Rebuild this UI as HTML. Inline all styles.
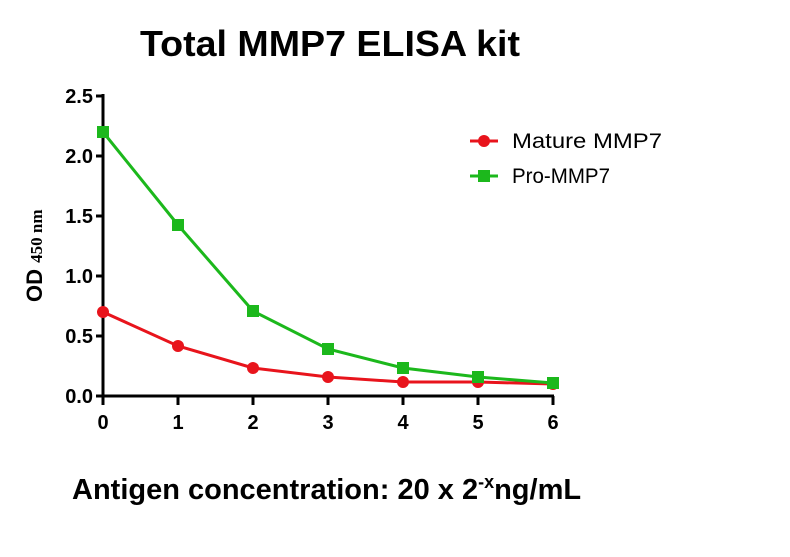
<!DOCTYPE html>
<html><head><meta charset="utf-8"><style>body{margin:0;background:#fff}svg{display:block}</style></head><body>
<svg width="790" height="557" xmlns="http://www.w3.org/2000/svg" font-family="Liberation Sans, Arial, sans-serif">
<rect width="790" height="557" fill="#fff"/>
<text x="140" y="56" font-size="36" font-weight="bold" textLength="380" lengthAdjust="spacingAndGlyphs">Total MMP7 ELISA kit</text>
<g stroke="#000" stroke-width="3" fill="none">
<line x1="103" y1="94" x2="103" y2="397"/>
<line x1="101.5" y1="396" x2="554" y2="396"/>
<line x1="96" y1="96" x2="103" y2="96"/>
<line x1="96" y1="156" x2="103" y2="156"/>
<line x1="96" y1="216" x2="103" y2="216"/>
<line x1="96" y1="276" x2="103" y2="276"/>
<line x1="96" y1="336" x2="103" y2="336"/>
<line x1="96" y1="396" x2="103" y2="396"/>
<line x1="103" y1="396" x2="103" y2="405"/>
<line x1="178" y1="396" x2="178" y2="405"/>
<line x1="253" y1="396" x2="253" y2="405"/>
<line x1="328" y1="396" x2="328" y2="405"/>
<line x1="403" y1="396" x2="403" y2="405"/>
<line x1="478" y1="396" x2="478" y2="405"/>
<line x1="553" y1="396" x2="553" y2="405"/>
</g>
<g font-size="20" font-weight="bold" text-anchor="end">
<text x="93" y="103">2.5</text><text x="93" y="163">2.0</text><text x="93" y="223">1.5</text>
<text x="93" y="283">1.0</text><text x="93" y="343">0.5</text><text x="93" y="403">0.0</text>
</g>
<g font-size="20" font-weight="bold" text-anchor="middle">
<text x="103" y="429">0</text><text x="178" y="429">1</text><text x="253" y="429">2</text><text x="328" y="429">3</text>
<text x="403" y="429">4</text><text x="478" y="429">5</text><text x="553" y="429">6</text>
</g>
<text transform="translate(42,302) rotate(-90)" font-size="22" font-weight="bold">OD <tspan font-family="Liberation Serif, serif" font-size="17">450 nm</tspan></text>
<polyline fill="none" stroke="#e8141c" stroke-width="3" points="103,312 178,346 253,368 328,377 403,382 478,382 553,384"/>
<g fill="#e8141c">
<circle cx="103" cy="312" r="6"/><circle cx="178" cy="346" r="6"/><circle cx="253" cy="368" r="6"/><circle cx="328" cy="377" r="6"/>
<circle cx="403" cy="382" r="6"/><circle cx="478" cy="382" r="6"/><circle cx="553" cy="384" r="6"/>
</g>
<polyline fill="none" stroke="#1cb81c" stroke-width="3" points="103,132 178,225 253,311 328,349 403,368 478,377 553,383"/>
<g fill="#1cb81c">
<rect x="97" y="126" width="12" height="12"/><rect x="172" y="219" width="12" height="12"/><rect x="247" y="305" width="12" height="12"/>
<rect x="322" y="343" width="12" height="12"/><rect x="397" y="362" width="12" height="12"/><rect x="472" y="371" width="12" height="12"/><rect x="547" y="377" width="12" height="12"/>
</g>
<line x1="470" y1="141" x2="498" y2="141" stroke="#e8141c" stroke-width="3"/><circle cx="484" cy="141" r="6" fill="#e8141c"/>
<text x="512" y="148" font-size="21" textLength="150" lengthAdjust="spacingAndGlyphs">Mature MMP7</text>
<line x1="470" y1="176" x2="498" y2="176" stroke="#1cb81c" stroke-width="3"/><rect x="478" y="170" width="12" height="12" fill="#1cb81c"/>
<text x="512" y="183" font-size="21" textLength="98" lengthAdjust="spacingAndGlyphs">Pro-MMP7</text>
<text x="72" y="499" font-size="29" font-weight="bold">Antigen concentration: 20 x 2<tspan font-size="18" dy="-11">-x</tspan><tspan dy="11">ng/mL</tspan></text>
</svg>
</body></html>
